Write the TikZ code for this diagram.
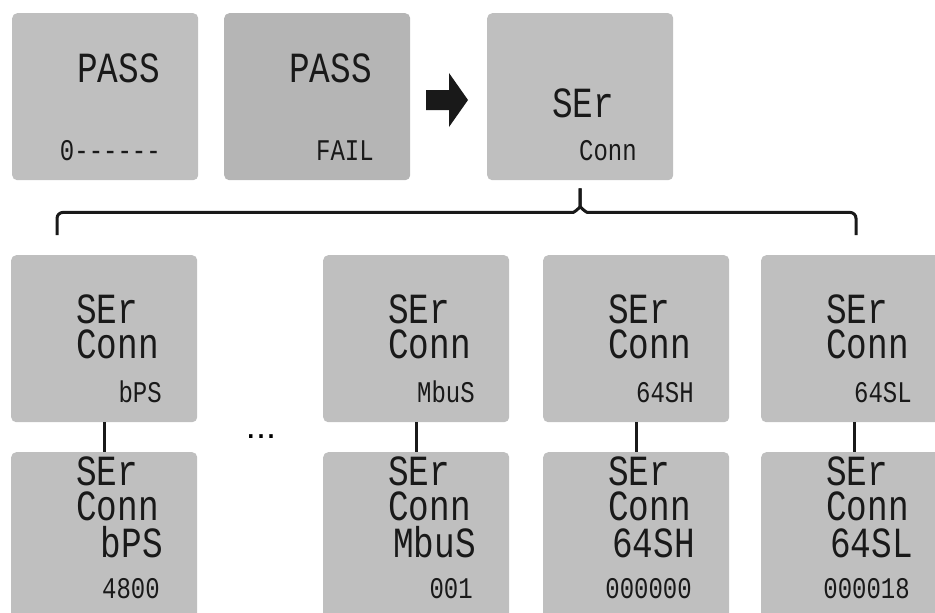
\documentclass[tikz,border=0pt]{standalone}
\usepackage{fontspec}
\setmainfont{Liberation Sans}
\newfontfamily\lcdfont[FakeStretch=0.8]{Liberation Mono}
\usetikzlibrary{calc}

\begin{document}
\begin{tikzpicture}[x=1pt, y=-1pt,
  lcd/.style={fill=gray!50, rounded corners=5pt, minimum width=186, minimum height=167, anchor=north west, inner sep=0},
  big/.style={inner sep=0, text height=29pt, text depth=0pt, text=black!90, font=\lcdfont\fontsize{43}{43}\selectfont},
  small/.style={inner sep=0, text height=20pt, text depth=0pt, text=black!90, font=\lcdfont\fontsize{30}{30}\selectfont},
  link/.style={line width=3pt, black!90}]
\useasboundingbox (0,0) rectangle (935,613);
\clip (0,0) rectangle (935,613);

% top row
\node[lcd] (pass1) at (12,13) {};
\node[lcd, fill=black!29] (pass2) at (224,13) {};
\node[lcd] (ser0) at (487,13) {};
\node[big, anchor=base west] (pass1t) at (77,82) {PASS};
\node[small, anchor=base east] (pass1b) at (161,160) {0------};
\node[big, anchor=base west] (pass2t) at (289,82) {PASS};
\node[small, anchor=base east] (pass2b) at (374,160) {FAIL};
\node[big, anchor=base west] (ser0t) at (552,117) {SEr};
\node[small, anchor=base east] (ser0b) at (637,160) {Conn};
\fill[black!90] (426,90) -- (449,90) -- (449,73) -- (468,100) -- (449,127) -- (449,110) -- (426,110) -- cycle;

% brace
\coordinate (tip) at ([yshift=-8pt]ser0.south);
\coordinate (bl) at (57,235);
\coordinate (br) at (856,235);
\draw[link, rounded corners=6pt] (bl) |- ($(tip)+(-13,24)$) to[out=0, in=-90] ($(tip)+(0,12)$) -- (tip);
\draw[link, rounded corners=6pt] (tip) -- ($(tip)+(0,12)$) to[out=-90, in=180] ($(tip)+(13,24)$) -| (br);

% second level
\node[lcd] (bps) at (11,255) {};
\node[lcd] (mbus) at (323,255) {};
\node[lcd] (shi) at (543,255) {};
\node[lcd] (slo) at (761,255) {};
\node[big, anchor=base west] (bps1) at (76,323) {SEr};
\node[big, anchor=base west] (bps2) at (76,358) {Conn};
\node[small, anchor=base east] (bps3) at (162,402) {bPS};
\node[big, anchor=base west] (mbus1) at (388,323) {SEr};
\node[big, anchor=base west] (mbus2) at (388,358) {Conn};
\node[small, anchor=base east] (mbus3) at (475,402) {MbuS};
\node[big, anchor=base west] (shi1) at (608,323) {SEr};
\node[big, anchor=base west] (shi2) at (608,358) {Conn};
\node[small, anchor=base east] (shi3) at (694,402) {64SH};
\node[big, anchor=base west] (slo1) at (826,323) {SEr};
\node[big, anchor=base west] (slo2) at (826,358) {Conn};
\node[small, anchor=base east] (slo3) at (912,402) {64SL};
\node[anchor=base] (more) at (261,438) {\fontsize{36}{36}\selectfont ...};

% third level
\node[lcd] (bpsv) at (11,452) {};
\node[lcd] (mbusv) at (323,452) {};
\node[lcd] (shiv) at (543,452) {};
\node[lcd] (slov) at (761,452) {};
\node[big, anchor=base west] (bpsv1) at (76,485) {SEr};
\node[big, anchor=base west] (bpsv2) at (76,520) {Conn};
\node[big, anchor=base east] (bpsv3) at (163,557) {bPS};
\node[small, anchor=base east] (bpsv4) at (160,598) {4800};
\node[big, anchor=base west] (mbusv1) at (388,485) {SEr};
\node[big, anchor=base west] (mbusv2) at (388,520) {Conn};
\node[big, anchor=base east] (mbusv3) at (476,557) {MbuS};
\node[small, anchor=base east] (mbusv4) at (473,598) {001};
\node[big, anchor=base west] (shiv1) at (608,485) {SEr};
\node[big, anchor=base west] (shiv2) at (608,520) {Conn};
\node[big, anchor=base east] (shiv3) at (695,557) {64SH};
\node[small, anchor=base east] (shiv4) at (692,598) {000000};
\node[big, anchor=base west] (slov1) at (826,485) {SEr};
\node[big, anchor=base west] (slov2) at (826,520) {Conn};
\node[big, anchor=base east] (slov3) at (913,557) {64SL};
\node[small, anchor=base east] (slov4) at (910,598) {000018};

\draw[link] (bps) -- (bpsv);
\draw[link] (mbus) -- (mbusv);
\draw[link] (shi) -- (shiv);
\draw[link] (slo) -- (slov);
\end{tikzpicture}
\end{document}
